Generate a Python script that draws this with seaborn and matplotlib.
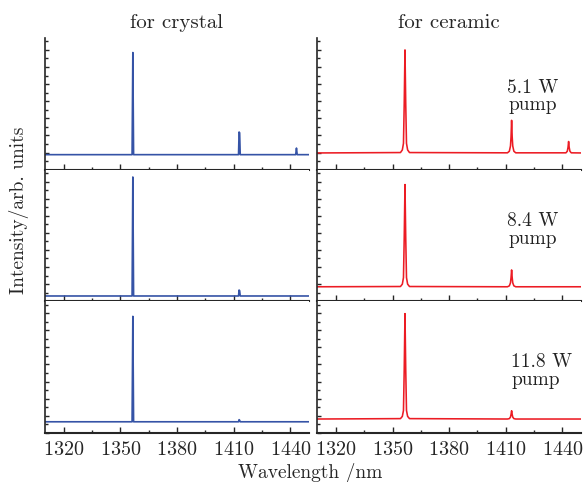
import numpy as np
import pandas as pd
import matplotlib
matplotlib.use("Agg")
import matplotlib.pyplot as plt
import seaborn as sns
from matplotlib.ticker import MultipleLocator, NullFormatter

# Longueurs d'onde (nm) des points
crystal_nm = [1310, 1356.2, 1356.6, 1357.0, 1412.6, 1412.9, 1413.2, 1413.5,
              1442.9, 1443.3, 1443.7, 1450]
ceramic_nm = [1310, 1354.2, 1355.2, 1355.8, 1356.2, 1356.6, 1357.0, 1357.4, 1358.0, 1359.0,
              1410.9, 1411.9, 1412.5, 1412.8, 1413.1, 1413.4, 1413.7, 1414.3, 1415.3,
              1441.9, 1442.6, 1443.0, 1443.3, 1443.6, 1444.0, 1444.7, 1450]

# Intensites (u.a.) pour chaque puissance de pompe
crystal_5w1 = [0.114, 0.114, 0.89, 0.114, 0.114, 0.286, 0.28, 0.114, 0.114, 0.164, 0.114, 0.114]
crystal_8w4 = [0.04, 0.04, 0.944, 0.04, 0.04, 0.085, 0.08, 0.04, 0.04, 0.04, 0.04, 0.04]
crystal_11w8 = [0.084, 0.084, 0.885, 0.084, 0.084, 0.1, 0.095, 0.084, 0.084, 0.084, 0.084, 0.084]

ceramic_5w1 = [0.127, 0.13, 0.15, 0.2, 0.5, 0.91, 0.5, 0.2, 0.15, 0.13,
               0.128, 0.14, 0.18, 0.25, 0.375, 0.25, 0.18, 0.14, 0.128,
               0.128, 0.14, 0.17, 0.214, 0.17, 0.14, 0.128, 0.127]
ceramic_8w4 = [0.11, 0.112, 0.13, 0.18, 0.48, 0.887, 0.48, 0.18, 0.13, 0.112,
               0.11, 0.117, 0.14, 0.18, 0.238, 0.18, 0.14, 0.117, 0.11,
               0.11, 0.11, 0.11, 0.11, 0.11, 0.11, 0.11, 0.11]
ceramic_11w8 = [0.105, 0.108, 0.125, 0.17, 0.48, 0.906, 0.48, 0.17, 0.125, 0.108,
                0.105, 0.108, 0.12, 0.14, 0.168, 0.14, 0.12, 0.108, 0.105,
                0.105, 0.105, 0.105, 0.105, 0.105, 0.105, 0.105, 0.105]

pump_labels = ["5.1 W\npump", "8.4 W\npump", "11.8 W\npump"]
col_titles = ["for crystal", "for ceramic"]
x_ticks = [1320, 1350, 1380, 1410, 1440]

sns.set_style("ticks")
plt.rcParams["font.family"] = ["cmr10", "DejaVu Serif"]
plt.rcParams["axes.formatter.use_mathtext"] = True

fig, axes = plt.subplots(3, 2, figsize=(5.83, 4.82), dpi=100, sharex=True)
fig.subplots_adjust(left=0.077, right=0.997, top=0.921, bottom=0.102, hspace=0, wspace=0.03)

crystal = [crystal_5w1, crystal_8w4, crystal_11w8]
ceramic = [ceramic_5w1, ceramic_8w4, ceramic_11w8]

for i in range(3):
    df_c = pd.DataFrame({"nm": crystal_nm, "I": crystal[i]})
    df_k = pd.DataFrame({"nm": ceramic_nm, "I": ceramic[i]})
    sns.lineplot(data=df_c, x="nm", y="I", ax=axes[i, 0], color="#3553a6", linewidth=1.2)
    sns.lineplot(data=df_k, x="nm", y="I", ax=axes[i, 1], color="#ec1c24", linewidth=1.15)

for i in range(3):
    for j in range(2):
        ax = axes[i, j]
        ax.set_xlim(1310, 1450)
        ax.set_ylim(0, 1)
        ax.set_xlabel("")
        ax.set_ylabel("")
        ax.spines["top"].set_visible(False)
        ax.spines["right"].set_visible(False)
        ax.spines["left"].set_linewidth(1.2)
        ax.spines["bottom"].set_linewidth(1.5)
        ax.set_xticks(x_ticks)
        ax.xaxis.set_minor_locator(MultipleLocator(15))
        ax.yaxis.set_major_locator(MultipleLocator(0.13))
        ax.yaxis.set_minor_locator(MultipleLocator(0.065))
        ax.yaxis.set_major_formatter(NullFormatter())
        ax.tick_params(which="both", direction="in", width=1)
        ax.tick_params(axis="x", which="major", length=4, labelsize=14.5, pad=6)
        ax.tick_params(axis="x", which="minor", length=2.5)
        ax.tick_params(axis="y", which="major", length=3)
        ax.tick_params(axis="y", which="minor", length=2)

for j in range(2):
    axes[0, j].set_title(col_titles[j], fontsize=15, pad=7)

axes[0, 1].text(0.815, 0.556, pump_labels[0], transform=axes[0, 1].transAxes,
                ha="center", va="center", fontsize=14, color="#222222", linespacing=1.0)
axes[1, 1].text(0.818, 0.54, pump_labels[1], transform=axes[1, 1].transAxes,
                ha="center", va="center", fontsize=14, color="#222222", linespacing=1.0)
axes[2, 1].text(0.735, 0.47, pump_labels[2], transform=axes[2, 1].transAxes,
                ha="left", va="center", fontsize=14, color="#222222", linespacing=1.0)

fig.text(0.532, 0.0083, "Wavelength /nm", ha="center", va="baseline", fontsize=14)
fig.text(19 / 583, 1 - 210 / 482, "Intensity/arb. units", ha="center", va="center",
         rotation=90, fontsize=14)

plt.savefig("out.png", dpi=100)
